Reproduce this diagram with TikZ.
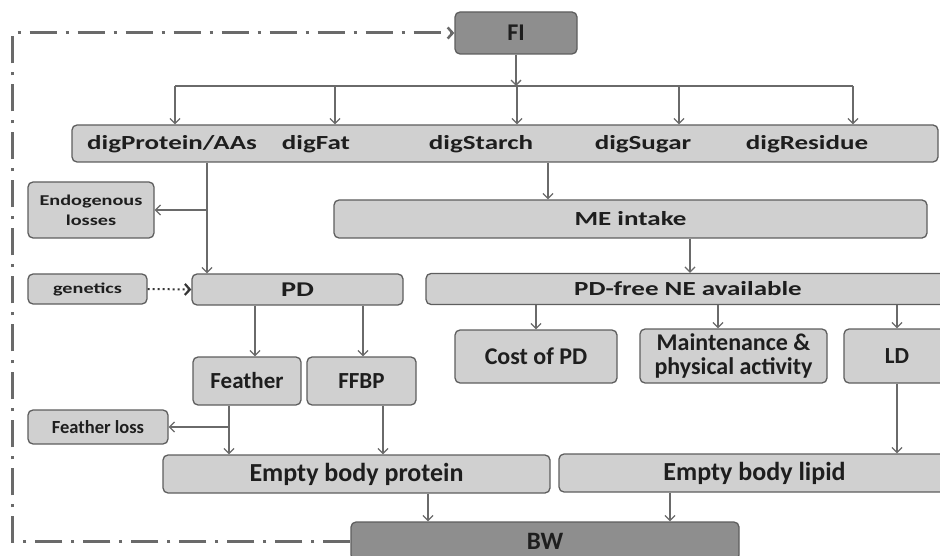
\documentclass[tikz,border=0pt]{standalone}
\usepackage{fontspec}
\setmainfont{Carlito}
\newfontfamily\widefont[FakeStretch=1.35]{Carlito}
\usepackage{tikz}
\usetikzlibrary{
  positioning,
  calc,
  arrows.meta
}
\definecolor{boxfill}{HTML}{D0D0D0}
\definecolor{darkfill}{HTML}{8E8E8E}
\definecolor{boxline}{HTML}{5E5E5E}
\definecolor{arrline}{HTML}{6A6A6A}
\definecolor{txt}{HTML}{1E1E1E}

\begin{document}
\begin{tikzpicture}[x=1pt,y=-1pt,
  box/.style={draw=boxline,line width=1.3pt,rounded corners=5pt,fill=boxfill,
    text=txt,inner sep=0pt,align=center},
  darkbox/.style={box,fill=darkfill},
  lab/.style={text=txt,inner sep=0pt,font=\widefont\bfseries\fontsize{20}{24}\selectfont},
  lin/.style={draw=arrline,line width=1.3pt},
  arr/.style={lin,-{Straight Barb[length=5pt,width=10pt]}},
  gen/.style={draw=txt!90,line width=2pt,dash pattern=on 2pt off 3pt,
    -{Straight Barb[length=5pt,width=11pt,line width=2.2pt]}},
  fb/.style={draw=arrline,line width=3pt,dash pattern=on 27pt off 9pt on 3pt off 9pt,
    -{Straight Barb[length=5pt,width=11pt,line width=2.5pt]}}
]
  \useasboundingbox (0,0) rectangle (940,556);

  % 上段
  \node[darkbox,minimum width=122pt,minimum height=42pt,
    font=\bfseries\fontsize{24}{26}\selectfont] (FI) at (516,33) {FI};
  \node[box,minimum width=866pt,minimum height=37pt] (dig) at (505,143.5) {};
  \node[lab] (dProt) at (172,144) {digProtein/AAs};
  \node[lab] (dFat) at (316,144) {digFat};
  \node[lab] (dStarch) at (481,144) {digStarch};
  \node[lab] (dSugar) at (643,144) {digSugar};
  \node[lab] (dRes) at (807,144) {digResidue};
  \node[box,minimum width=593pt,minimum height=38pt,
    font=\widefont\bfseries\fontsize{20}{24}\selectfont] (ME) at (630.5,219) {ME intake};

  % タンパク質側
  \node[box,minimum width=126pt,minimum height=56pt,
    font=\widefont\bfseries\fontsize{15}{20}\selectfont] (endo) at (91,210) {Endogenous\\losses};
  \node[box,minimum width=119pt,minimum height=30pt,
    font=\widefont\bfseries\fontsize{15}{17}\selectfont] (genetics) at (87.5,289) {genetics};
  \node[box,minimum width=211pt,minimum height=31pt,
    font=\widefont\bfseries\fontsize{21}{24}\selectfont] (PD) at (297.5,289.5) {PD};
  \node[box,minimum width=108pt,minimum height=48pt,
    font=\bfseries\fontsize{23}{26}\selectfont] (feather) at (247,381) {Feather};
  \node[box,minimum width=109pt,minimum height=48pt,
    font=\bfseries\fontsize{23}{26}\selectfont] (FFBP) at (361.5,381) {FFBP};
  \node[box,minimum width=140pt,minimum height=34pt,
    font=\bfseries\fontsize{18.5}{22}\selectfont] (fLoss) at (98,427) {Feather loss};

  % エネルギー側
  \node[box,minimum width=524pt,minimum height=31pt,
    font=\widefont\bfseries\fontsize{20}{24}\selectfont] (NEfree) at (688,289) {PD-free NE available};
  \node[box,minimum width=162pt,minimum height=53pt,
    font=\bfseries\fontsize{24}{26}\selectfont] (cost) at (536,356.5) {Cost of PD};
  \node[box,minimum width=187pt,minimum height=54pt,
    font=\bfseries\fontsize{24}{23.5}\selectfont] (maint) at (733.5,356) {Maintenance \&\\physical activity};
  \node[box,minimum width=106pt,minimum height=54pt,
    font=\bfseries\fontsize{23}{26}\selectfont] (LD) at (897,356) {LD};

  % 下段
  \node[box,minimum width=387pt,minimum height=38pt,
    font=\bfseries\fontsize{26}{28}\selectfont] (EBP) at (356.5,474) {Empty body protein};
  \node[box,minimum width=391pt,minimum height=38pt,
    font=\bfseries\fontsize{26}{28}\selectfont] (EBL) at (754.5,473) {Empty body lipid};
  \node[darkbox,minimum width=388pt,minimum height=38pt,
    font=\bfseries\fontsize{25}{28}\selectfont] (BW) at (545,541) {BW};

  % 分岐の位置
  \coordinate (bar1) at (175,86);
  \coordinate (bar2) at (335,86);
  \coordinate (bar3) at (517,86);
  \coordinate (bar4) at (679,86);
  \coordinate (bar5) at (853,86);
  \coordinate (xStarch) at (548,0);
  \coordinate (xNE) at (690,0);
  \coordinate (xProt) at (207,0);
  \coordinate (xPD1) at (255,0);
  \coordinate (xPD2) at (363,0);
  \coordinate (xMaint) at (718,0);
  \coordinate (xFeat) at (229,0);
  \coordinate (xFFBP) at (383,0);
  \coordinate (xBW1) at (428,0);
  \coordinate (xBW2) at (670,0);
  \coordinate (xFb) at (12,0);

  % FI から消化成分へ
  \draw[arr] (FI.south) -- (FI.south |- bar1);
  \draw[lin] (bar1) -- (bar5);
  \foreach \b in {bar1,bar2,bar3,bar4,bar5}
    \draw[arr] (\b) -- (\b |- dig.north);

  % エネルギーの流れ
  \draw[arr] (dig.south -| xStarch) -- (ME.north -| xStarch);
  \draw[arr] (ME.south -| xNE) -- (NEfree.north -| xNE);
  \draw[arr] (NEfree.south -| cost.north) -- (cost.north);
  \draw[arr] (NEfree.south -| xMaint) -- (maint.north -| xMaint);
  \draw[arr] (NEfree.south -| LD.north) -- (LD.north);
  \draw[arr] (LD.south) -- (EBL.north -| LD.south);

  % タンパク質の流れ
  \draw[arr] (dig.south -| xProt) -- (PD.north -| xProt);
  \draw[arr] (endo.east -| xProt) -- (endo.east);
  \draw[gen] (genetics.east) -- (PD.west);
  \draw[arr] (PD.south -| xPD1) -- (feather.north -| xPD1);
  \draw[arr] (PD.south -| xPD2) -- (FFBP.north -| xPD2);
  \draw[arr] (feather.south -| xFeat) -- (EBP.north -| xFeat);
  \draw[arr] (fLoss.east -| xFeat) -- (fLoss.east);
  \draw[arr] (FFBP.south -| xFFBP) -- (EBP.north -| xFFBP);

  % 体重へ
  \draw[arr] (EBP.south -| xBW1) -- (BW.north -| xBW1);
  \draw[arr] (EBL.south -| xBW2) -- (BW.north -| xBW2);

  % フィードバック
  \draw[fb] (BW.west) -| (xFb |- FI.west) -- (FI.west);
\end{tikzpicture}
\end{document}
